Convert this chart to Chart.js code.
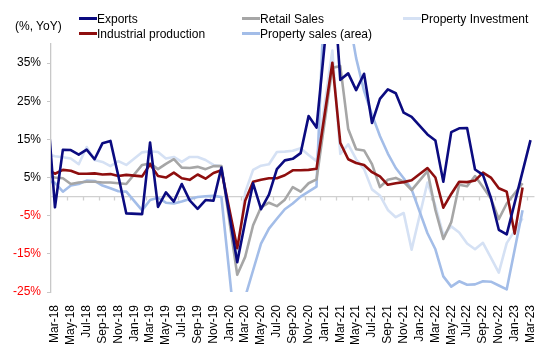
<!DOCTYPE html>
<html><head><meta charset="utf-8">
<script src="https://cdn.jsdelivr.net/npm/chart.js@4.4.1/dist/chart.umd.min.js"></script>
<style>
html,body{margin:0;padding:0;background:#fff;}
#wrap{position:relative;width:550px;height:357px;font-family:"Liberation Sans",Arial,sans-serif;font-size:12px;color:#000;}
#c{position:absolute;left:0;top:0;}
.lg{position:absolute;white-space:nowrap;line-height:14px;}
.sw{position:absolute;width:18px;height:3px;}
</style></head>
<body>
<div id="wrap"><canvas id="c" width="550" height="357"></canvas></div>
<script>
// Months (Feb-18 is the partial month cut by the left edge of the plot)
const months = ["Feb-18","Mar-18","Apr-18","May-18","Jun-18","Jul-18","Aug-18","Sep-18","Oct-18","Nov-18","Dec-18",
"Jan-19","Feb-19","Mar-19","Apr-19","May-19","Jun-19","Jul-19","Aug-19","Sep-19","Oct-19","Nov-19","Dec-19",
"Jan-20","Feb-20","Mar-20","Apr-20","May-20","Jun-20","Jul-20","Aug-20","Sep-20","Oct-20","Nov-20","Dec-20",
"Jan-21","Feb-21","Mar-21","Apr-21","May-21","Jun-21","Jul-21","Aug-21","Sep-21","Oct-21","Nov-21","Dec-21",
"Jan-22","Feb-22","Mar-22","Apr-22","May-22","Jun-22","Jul-22","Aug-22","Sep-22","Oct-22","Nov-22","Dec-22",
"Jan-23","Feb-23","Mar-23"];

const exports_ = [24.4,-2.8,12.3,12.2,11.0,12.3,9.8,14.0,14.6,5.4,-4.4,
null,-4.6,14.2,-2.7,1.1,-1.3,3.3,-1.0,-3.2,-0.9,-1.1,7.6,
null,-17.2,-6.6,3.5,-3.3,0.5,7.2,9.5,9.9,11.4,21.1,18.1,
null,60.6,30.6,32.3,27.9,32.2,19.3,25.6,28.1,27.1,22.0,20.9,
null,16.3,14.7,3.9,16.9,17.9,18.0,7.1,5.7,-0.3,-8.7,-9.9,
null,null,14.8];

const industrialProduction = [7.2,6.0,7.0,6.8,6.0,6.0,6.1,5.8,5.9,5.4,5.7,
null,5.3,8.5,5.4,5.0,6.3,4.8,4.4,5.8,4.7,6.2,6.9,
null,-13.5,-1.1,3.9,4.4,4.8,4.8,5.6,6.9,6.9,7.0,7.3,
null,35.1,14.1,9.8,8.8,8.3,6.4,5.3,3.1,3.5,3.8,4.3,
null,7.5,5.0,-2.9,0.7,3.9,3.8,4.2,6.3,5.0,2.2,1.3,
-9.7,2.4,null];

const retailSales = [5.4,5.0,4.8,3.3,3.7,3.9,3.9,3.7,3.7,3.5,3.3,
null,8.3,8.7,7.2,8.6,9.8,7.6,7.5,7.8,7.2,8.0,8.0,
null,-20.5,-15.8,-7.5,-2.8,-1.6,-2.5,-0.8,2.5,1.3,3.5,4.5,
null,33.8,34.2,17.7,12.4,12.1,8.5,2.5,4.4,4.9,3.9,1.7,
null,6.7,-3.5,-11.1,-6.7,3.1,2.7,5.4,2.5,-0.5,-5.9,-1.8,
null,3.5,null];

const propertyInvestment = [11.2,10.6,10.3,10.0,8.5,13.0,9.6,9.1,8.0,9.3,8.3,
null,11.6,11.9,11.7,10.0,10.4,9.1,10.4,10.4,9.6,8.3,8.0,
null,-16.3,1.1,7.0,8.1,8.5,11.7,11.8,12.0,12.7,10.9,9.3,
null,38.3,11.2,13.7,9.8,7.2,1.9,0.3,-3.5,-5.4,-4.3,-13.9,
null,3.7,-2.4,-10.1,-7.8,-9.4,-12.3,-13.8,-12.1,-16.0,-19.9,-12.2,
null,-5.7,null];

const propertySalesArea = [4.1,3.6,1.3,2.9,3.3,4.2,4.1,2.9,2.2,1.4,1.3,
null,-3.6,-0.9,-0.3,-1.6,-1.8,-1.3,-0.6,-0.1,0.1,0.2,-0.1,
null,-39.9,-26.3,-19.3,-12.3,-8.4,-5.8,-3.3,-1.8,0.0,1.3,2.6,
null,104.9,63.8,48.1,36.3,27.7,21.5,15.9,11.3,7.5,4.8,1.9,
null,-9.6,-13.8,-20.9,-23.6,-22.2,-23.1,-23.0,-22.2,-22.3,-23.3,-24.3,
null,-3.6,null];

const yTickValues = [-25,-15,-5,5,15,25,35];
const yMin = -25, yMax = 40;
const xLabelStep = 2;

const seriesNames = ["Exports","Industrial production","Retail Sales","Property sales (area)","Property Investment"];
const seriesColors = ["#0b0b80","#8e0e0e","#a6a6a6","#a3bde8","#d5e1f4"];
const seriesValues = [exports_, industrialProduction, retailSales, propertySalesArea, propertyInvestment];

// Legend (HTML text)
const wrap = document.getElementById('wrap');
const legendPos = [[79,12],[79,27],[242,12],[242,27],[403,12]];
function addDiv(cls, left, top, text){
  const d = document.createElement('div'); d.className = cls;
  d.style.left = left + 'px'; d.style.top = top + 'px';
  if (text) d.textContent = text; wrap.appendChild(d); return d;
}
addDiv('lg', 15, 19, '(%, YoY)');
seriesNames.forEach((n,i)=>{
  const [l,t] = legendPos[i];
  const s = addDiv('sw', l, t+5);
  s.style.background = seriesColors[i];
  addDiv('lg', l+18, t, n);
});

const datasets = seriesValues.map((vals,i)=>({
  label: seriesNames[i],
  data: vals.map((v,k)=>({x:k-1, y:v})),
  borderColor: seriesColors[i],
  backgroundColor: seriesColors[i],
  borderWidth: 2.6,
  pointRadius: 0,
  tension: 0,
  spanGaps: true,
  clip: 0,
  borderJoinStyle: 'round'
}));

const zeroLine = {
  id: 'zeroLine',
  beforeDatasetsDraw(chart) {
    const {ctx, chartArea, scales:{x,y}} = chart;
    const y0 = y.getPixelForValue(0);
    ctx.save();
    ctx.strokeStyle = '#d0d0d0';
    ctx.lineWidth = 1.3;
    ctx.beginPath();
    ctx.moveTo(chartArea.left, y0); ctx.lineTo(chartArea.right, y0);
    for (let v = 1.5; v < months.length - 2; v += xLabelStep) {
      const px = Math.round(x.getPixelForValue(v)) + 0.5;
      ctx.moveTo(px, y0); ctx.lineTo(px, y0 + 4);
    }
    ctx.stroke();
    ctx.restore();
  }
};

new Chart(document.getElementById('c'), {
  type: 'line',
  data: { datasets },
  plugins: [zeroLine],
  options: {
    responsive: false,
    animation: false,
    devicePixelRatio: 1,
    layout: { padding: { top: 44, right: 12, left: 0, bottom: 0 } },
    plugins: { legend: { display: false }, tooltip: { enabled: false } },
    scales: {
      x: {
        type: 'linear', min: -0.5, max: months.length - 1.5,
        grid: { display: false },
        border: { display: false },
        afterBuildTicks(scale) {
          const t = [];
          for (let k = 1; k < months.length; k += xLabelStep) t.push({ value: k - 1 });
          scale.ticks = t;
        },
        afterFit(scale) { scale.height = 65; },
        ticks: {
          autoSkip: false, maxRotation: 90, minRotation: 90, padding: 5,
          color: '#000',
          font: { family: '"Liberation Sans", Arial, sans-serif', size: 12 },
          callback: (v) => months[v + 1]
        }
      },
      y: {
        min: yMin, max: yMax,
        afterBuildTicks(scale) { scale.ticks = yTickValues.map(v => ({ value: v })); },
        afterFit(scale) { scale.width = 51; },
        grid: { display: true, drawOnChartArea: false, drawTicks: true, tickLength: 4, color: '#c8c8c8' },
        border: { display: true, color: '#c8c8c8', width: 1.3 },
        ticks: {
          padding: 6,
          color: (c) => (c.tick && c.tick.value < 0) ? '#ff0000' : '#000',
          font: { family: '"Liberation Sans", Arial, sans-serif', size: 12 },
          callback: (v) => v + '%'
        }
      }
    }
  }
});
</script>
</body></html>
